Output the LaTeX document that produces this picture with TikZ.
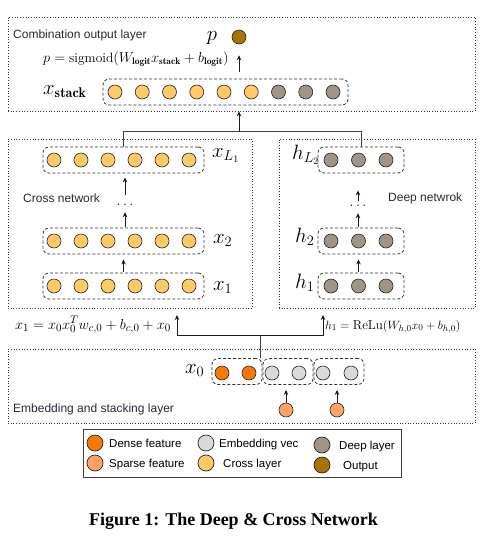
\documentclass[tikz,border=0pt]{standalone}
\usepackage{fontspec}
\newfontfamily\arial{Liberation Sans}
\newfontfamily\capfont{Liberation Serif}
\usetikzlibrary{arrows.meta}
\definecolor{densec}{RGB}{250,120,0}
\definecolor{sparsec}{RGB}{255,162,102}
\definecolor{embc}{RGB}{217,217,217}
\definecolor{crossc}{RGB}{255,202,102}
\definecolor{deepc}{RGB}{160,148,134}
\definecolor{outc}{RGB}{168,116,0}
\definecolor{txtc}{RGB}{40,40,60}
\tikzset{
  outerbox/.style={draw=black!80, line width=0.7pt, dash pattern=on 0.7pt off 2pt, inner sep=0pt},
  grp/.style={draw=black!80, line width=0.8pt, dash pattern=on 3pt off 2pt, rounded corners=6pt, inner sep=0pt, minimum height=26pt},
  neur/.style={circle, draw=black!85, line width=0.6pt, minimum size=14pt, inner sep=0pt},
  lneur/.style={circle, draw=black!85, line width=0.7pt, minimum size=16pt, inner sep=0pt},
  arr/.style={-{Stealth[length=5pt,width=4.5pt]}, line width=0.8pt, draw=black!90},
  conn/.style={line width=0.9pt, draw=black!75},
  lbl/.style={font=\arial\fontsize{12}{14}\selectfont, text=txtc, inner sep=0pt, anchor=base west},
  lgd/.style={font=\arial\fontsize{11.5}{14}\selectfont, text=black, inner sep=0pt, anchor=base west},
  bigm/.style={font=\fontsize{20}{24}\selectfont, inner sep=0pt, anchor=base west},
  frm/.style={font=\fontsize{13.5}{16}\selectfont, inner sep=0pt, anchor=base west},
  dotsn/.style={inner sep=0pt, anchor=base, font=\fontsize{14}{16}\selectfont}
}
\begin{document}
\begin{tikzpicture}[x=1pt,y=-1pt]
\useasboundingbox (0,0) rectangle (498,542);

% outer layer boxes
\node[outerbox, minimum width=467pt, minimum height=94pt] (topbox) at (241.5,64) {};
\node[outerbox, minimum width=244pt, minimum height=169pt] (crossbox) at (130,223.5) {};
\node[outerbox, minimum width=196pt, minimum height=169pt] (deepbox) at (377,223.5) {};
\node[outerbox, minimum width=467pt, minimum height=74pt] (embbox) at (241.5,386) {};

% layer titles
\node[lbl] (tcomb) at (13,38) {Combination output layer};
\node[lbl] (tcross) at (23,202) {Cross network};
\node[lbl] (tdeep) at (388,201) {Deep netwrok};
\node[lbl] (temb) at (13,412) {Embedding and stacking layer};

% output
\node[neur, fill=outc] (out) at (239,37) {};
\node[bigm, anchor=base] (plbl) at (212,40) {$p$};
\node[frm] (pform) at (43,62) {$p=\mathrm{sigmoid}(W_{\mathbf{logit}}x_{\mathbf{stack}}+b_{\mathbf{logit}})$};

% stack
\node[grp, minimum width=245pt] (stack) at (225.5,92) {};
\foreach \i in {0,...,5} \node[neur, fill=crossc] (s\i) at (115+27.25*\i,92) {};
\foreach \i in {6,7,8} \node[neur, fill=deepc] (s\i) at (115+27.25*\i,92) {};
\node[bigm] (xstack) at (43,94) {$x_{\mathbf{stack}}$};
\draw[arr, shorten <=7pt, shorten >=11pt] (stack.north -| out) -- (out);

% cross network
\node[grp, minimum width=161pt] (cL) at (123.5,160) {};
\node[grp, minimum width=161pt] (c2) at (123.5,241) {};
\node[grp, minimum width=161pt] (c1) at (123.5,286) {};
\foreach \r/\y in {L/160,2/241,1/286}
  \foreach \i in {0,...,5} \node[neur, fill=crossc] (c\r n\i) at (54+27*\i,\y) {};
\node[bigm] (xL) at (212,157) {$x_{L_1}$};
\node[bigm] (x2) at (213,243) {$x_2$};
\node[bigm] (x1) at (213,290) {$x_1$};
\node[dotsn] (cdots) at (125,205) {$\ldots$};
\draw[arr, shorten <=1pt, shorten >=7pt] (c2.north -| cdots) -- (cdots.south);
\draw[arr, shorten <=10pt, shorten >=4pt] (cdots.south) -- (cL.south -| cdots);
\draw[arr, shorten <=1pt, shorten >=5pt] (c1.north) -- (c2.south);

% deep network
\node[grp, minimum width=86pt] (hL) at (361,160) {};
\node[grp, minimum width=86pt] (h2) at (361,241) {};
\node[grp, minimum width=86pt] (h1) at (361,286) {};
\foreach \r/\y in {L/160,2/241,1/286}
  \foreach \i in {0,1,2} \node[neur, fill=deepc] (h\r n\i) at (331+27.5*\i,\y) {};
\node[bigm] (hLl) at (292,159) {$h_{L_2}$};
\node[bigm] (h2l) at (295,242) {$h_2$};
\node[bigm] (h1l) at (295,288) {$h_1$};
\node[dotsn] (ddots) at (358,206) {$\ldots$};
\draw[arr, shorten <=1pt, shorten >=7pt] (h2.north -| ddots) -- (ddots.south);
\draw[arr, shorten <=5pt, shorten >=17pt] (ddots.south) -- (hL.south -| ddots);
\draw[arr, shorten <=1pt, shorten >=5pt] (h1.north -| h1n1) -- (h2.south -| h1n1);

% combination connector
\coordinate (jt) at (239,131);
\draw[conn] (cL.north) -- (cL.north |- jt) -| (hL.north);
\draw[arr] (jt) -- (jt |- topbox.south);

% embedding
\node[grp, minimum width=50pt] (dense) at (237,371.5) {};
\node[grp, minimum width=50pt] (e1) at (288,371.5) {};
\node[grp, minimum width=50pt] (e2) at (339,371.5) {};
\node[neur, fill=densec] (d0) at (222,373) {};
\node[neur, fill=densec] (d1) at (249,373) {};
\node[neur, fill=embc] (e1n0) at (272,373) {};
\node[neur, fill=embc] (e1n1) at (299,373) {};
\node[neur, fill=embc] (e2n0) at (323,373) {};
\node[neur, fill=embc] (e2n1) at (351,373) {};
\node[bigm] (x0) at (185,373) {$x_0$};
\node[neur, fill=sparsec] (sp1) at (286,410) {};
\node[neur, fill=sparsec] (sp2) at (337,410) {};
\draw[arr, shorten >=5pt] (sp1) -- (sp1 |- e1.south);
\draw[arr, shorten >=5pt] (sp2) -- (sp2 |- e2.south);

% x0 to networks
\coordinate (jb) at (260,335);
\coordinate (ca) at (177,315);
\coordinate (da) at (323,315);
\draw[conn] (jb |- dense.north) -- (jb);
\draw[arr] (jb) -| (ca);
\draw[arr] (jb) -| (da);
\node[frm, font=\fontsize{15}{17}\selectfont] (x1form) at (15,329) {$x_1=x_0x_0^Tw_{c,0}+b_{c,0}+x_0$};
\node[frm, font=\fontsize{13}{16}\selectfont] (h1form) at (325,329) {$h_1=\mathrm{ReLu}(W_{h,0}x_0+b_{h,0})$};

% legend
\node[draw=black!75, line width=1pt, minimum width=318pt, minimum height=48pt, inner sep=0pt] (legend) at (242,453) {};
\node[lneur, fill=densec] (lg1) at (95,443) {};
\node[lneur, fill=sparsec] (lg2) at (95,463) {};
\node[lneur, fill=embc] (lg3) at (206,443) {};
\node[lneur, fill=crossc] (lg4) at (206,463) {};
\node[lneur, fill=deepc] (lg5) at (322,445) {};
\node[lneur, fill=outc] (lg6) at (322,465) {};
\node[lgd] (lt1) at (109,447) {Dense feature};
\node[lgd] (lt2) at (109,467) {Sparse feature};
\node[lgd] (lt3) at (219,447) {Embedding vec};
\node[lgd] (lt4) at (223,467) {Cross layer};
\node[lgd] (lt5) at (339,449) {Deep layer};
\node[lgd] (lt6) at (343,469) {Output};

% caption
\node[font=\capfont\bfseries\fontsize{18}{20}\selectfont, inner sep=0pt, anchor=base] (cap) at (233.5,525) {Figure 1: The Deep \& Cross Network};
\end{tikzpicture}
\end{document}
